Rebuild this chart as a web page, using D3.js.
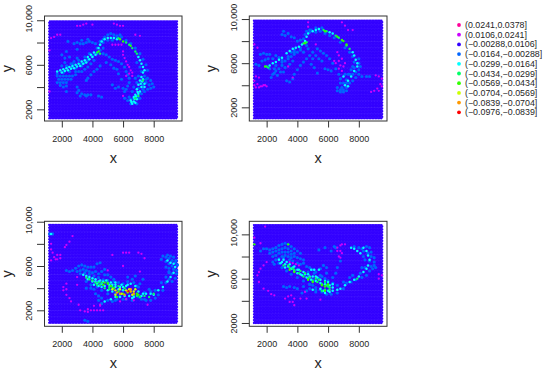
<!DOCTYPE html>
<head>
  <meta charset="utf-8">
  <script src="https://d3js.org/d3.v7.min.js"></script>
  <style>
    body { margin:0; background:#fff; }
    text { font-family:"Liberation Sans", Arial, sans-serif; fill:#262626; }
    .axis path { display:none; }
    .axis line { stroke:#333; stroke-width:1; }
    .axis text { font-size:9px; }
  </style>
</head>
<body>
<script>
// legend classes, top to bottom
var classLabels = ["(0.0241,0.0378]","(0.0106,0.0241]","(\u22120.00288,0.0106]","(\u22120.0164,\u22120.00288]","(\u22120.0299,\u22120.0164]","(\u22120.0434,\u22120.0299]","(\u22120.0569,\u22120.0434]","(\u22120.0704,\u22120.0569]","(\u22120.0839,\u22120.0704]","(\u22120.0976,\u22120.0839]"];
var classColors = ["#FF0099","#CC00FF","#3300FF","#0066FF","#00FFFF","#00FF66","#33FF00","#CCFF00","#FF9900","#FF0000"];
var classRadius = [1.1,1.15,1.15,1.55,1.25,1.2,1.2,1.2,1.2,1.1];

var xTicks = [2000,4000,6000,8000];
var yTicks = [2000,4000,6000,8000,10000];
var yTickLabels = ["2000","","6000","","10,000"];

// marks, x,y pairs in drawing order per panel
var p1Blue = [1700,4400,1900,4400,2100,4400,2300,4400,1800,4700,2000,4700,2200,4700,2400,4700,2600,4700,1700,5000,1900,5000,2100,5000,2300,5000,2500,5000,2700,5000,2900,5100,2900,5400,3100,5400,3300,5400,3500,5600,3700,5800,3900,6100,4100,6400,3300,5900,3500,6200,3700,6400,1900,4150,2100,4000,2300,4100,2200,6600,2500,6700,2000,5900,2400,5800,2600,6100,2800,6300,3000,6600,2700,5800,2200,6200,3200,6000,2000,6900,2300,7200,3000,7400,2800,7900,3000,8000,3200,7900,3400,7900,3600,8000,3800,8100,4000,8000,4200,7900,3300,8200,3700,8300,2400,8100,4700,8000,4500,7800,4800,8500,5000,8700,5200,8800,5400,8700,5600,8500,5800,8700,4700,7000,4900,6900,5100,6700,5300,6500,5500,6400,5700,6300,5900,6100,6100,5800,6200,5400,6300,5100,6400,4800,6400,4400,6300,4100,6200,3800,6100,3600,4900,6200,5200,6000,5400,5700,5600,5600,5700,5200,5900,4700,5700,4000,5500,3900,5300,4200,6000,3900,3700,4800,3900,5100,4100,5400,4300,5600,4500,5900,3600,4600,3000,4000,3100,3700,3300,3400,3500,3300,3700,3300,3900,3300,3200,3200,4400,3200,4600,3100,2300,3600,3000,3500,3600,3200,7400,5000,7600,4800,7800,4600,7900,4300,8000,4000,7800,3900,7600,3800,7400,3600,7200,3400,7700,4200,7500,4400,7300,4200,7000,3000,6700,3000,6500,2900,6300,2800,6100,3000,6400,3100,1700,5200,2100,5300,2500,5400,2900,5700,3300,6100,3700,6500,4000,6800,2300,5900,2700,6100,3100,6400,3500,6700,3800,7000,4300,7000,4500,7300,4300,7500,4700,7500,4700,8300,4500,8100,5000,8200,5300,8200,5600,8600,5900,8500,6200,8200,6500,7900,6800,7500,7100,7000,7300,6500,7500,6000,7600,5500,6900,6200,7100,5800,7200,5400,7000,5000,6800,4800,6900,4400,6700,4000,6600,3600,6900,3200,7100,3000,7300,3800,7500,4700,7000,3900,6500,2500,6900,2500];
var p1Magenta = [3000,9500,3200,9500,3400,9600,3600,9700,4000,9600,5400,9700,5600,9600,5800,9500,6000,9500,6800,8700,7100,8600,1300,8400,1500,8500,1700,8700,1200,7300,1900,8700,5300,7800,5500,7800,5700,7800,5900,7800,6000,7200,6000,6900,6100,6600,6200,6300,6300,6000,6400,5800,6500,5500,6600,5300,6600,5000,6400,5200,6200,5000,6000,3200,1200,3600];
var p1Cyan = [1700,5400,1900,5500,2100,5600,2300,5700,2500,5800,2700,5900,2900,6000,3100,6100,3300,6300,3500,6400,3700,6700,3900,6900,4100,7100,2000,5300,2400,5500,2800,5700,3200,5900,3600,6200,4200,6900,4400,7500,4500,7800,4600,8100,4800,8300,5000,8400,5200,8400,5400,8400,5600,8300,7000,6700,7100,6400,7200,6100,7300,5800,7400,5500,7200,4900,7100,4600,7300,4700,7000,4200,7400,4300,7200,4000,6900,3800,7100,3600,6800,3300,7000,3400,6900,2900,6700,2700,6500,2800,6700,3100,6600,2500,6800,2600,2200,5450,2600,5650,3000,5850,3400,6100,3800,6500,4000,6700,7300,5300,7250,4500,7400,4000,7150,4300,6950,3550,6750,2950,6850,3150,6550,2650];
var p1Teal = [5700,8400,6200,8000,6400,7800,6600,7500,6800,7200,4300,7100,4500,7000,6900,7000,6800,3000,7000,3200,7300,4600];
var p1Green = [5800,8300,6000,8100,6500,7700,4400,7200];

var p2Blue = [1600,6800,1800,6900,2000,6800,2200,6800,1700,6200,1900,6300,2100,6400,2400,6400,2600,6700,2800,6500,3000,6300,3200,6200,3400,6400,3600,6600,3800,6800,4000,7000,3600,7000,3800,7200,4200,7200,4400,7000,3000,5800,3200,5600,2800,5500,2600,5300,2400,5000,2300,4700,2500,5100,3100,5200,3700,6200,3500,5900,2700,4900,3300,4400,3500,4300,1500,5800,1300,5900,3000,8600,3200,8500,3400,8700,3600,8400,3800,8300,4000,8000,4200,8100,3100,8900,4600,8900,4800,8800,4900,9000,5200,9200,5400,9100,5600,9200,5000,7000,4800,6700,5200,6700,5400,6400,4600,6400,4400,6100,4200,5800,4000,5400,3800,5000,3700,4600,5000,6400,5600,6200,4700,7300,5300,7300,5500,7100,5700,6900,5900,6700,6100,6400,6300,6000,6500,5500,6700,5000,6800,4600,6800,4200,6600,3800,5800,5500,6000,5400,6200,5300,5100,5600,5300,5100,4900,5900,7500,5400,7700,5600,8000,5000,8200,4800,8500,4800,8700,4800,7400,5000,7200,4500,7000,4200,7200,3800,7000,3600,6800,3600,6600,3500,6800,3400,7000,3400,7200,3500,7600,4400,7800,4700,7400,4200,7600,5000,7800,5200,8000,5400,2200,5500,2600,5800,3000,6100,3400,6600,3800,7000,4200,7400,4600,7600,4400,8200,4500,8600,4800,9000,5200,8800,5500,8900,5800,8700,6100,8500,6400,8300,6800,7900,7100,7400,7400,7000,7600,6600,8000,6400,7700,6100,7600,5700,8000,6000,8100,5700,7300,5000,7100,5000,6900,3800,7200,4200,2500,5500,2900,5200];
var p2Magenta = [4700,9700,4700,9300,6900,9700,7100,9400,7300,9000,7600,9000,1200,7700,1400,7400,1300,4800,1500,4700,1200,4400,1200,4000,1400,4100,1600,3900,1800,4000,2000,3900,1300,3800,1500,3800,1700,3900,1900,4000,5200,7700,6600,7000,6700,6700,6900,6400,7100,6000,7000,5700,6500,6000,6700,5500,6900,5300,6800,5800,6400,6200,6700,6200,3400,5700,3700,4700,9100,4900,9300,4800,9500,4600,9400,4100,9200,3700,9000,3500,8800,3400,9500,3900,9300,3500];
var p2Cyan = [2200,5800,2400,6000,2600,6100,2800,6300,3000,6500,3300,6900,3500,7100,3700,7300,3900,7400,4100,7500,4300,7700,4500,8000,4600,8400,4700,8700,5000,8900,5200,9000,5400,9100,6100,8800,6300,8700,7600,7000,7700,6700,7800,6300,7900,6000,7900,5700,7700,5300,7500,4800,7300,4400,7300,3900,7100,4000,7000,4800];
var p2Teal = [2000,5700,2100,5600,5700,9000,5900,8900,6500,8500,6700,8300,7200,7600,7400,7300,4400,7800,4600,7900];
var p2Green = [1900,5700,6900,8100,7000,8000,7200,7700,6600,8400,4500,7800,5800,8900];

var p3Blue = [2300,5600,2500,5500,2700,5600,2900,5800,3100,6000,3300,6100,3500,6000,3700,5900,3900,5900,4100,5900,4300,6200,4500,6300,3000,5500,3200,5600,3400,5700,3600,5600,3800,5500,4000,5400,4200,5500,4400,5300,4600,5500,4800,5700,5000,5200,5200,5000,4800,5200,5400,4800,4200,3500,4400,3300,4600,3100,4400,2900,4600,2600,5000,2900,5300,2800,5600,3000,5800,3300,6000,3000,3600,4000,3900,4000,4100,3900,6300,5000,6600,4800,6800,5100,7300,4800,7100,4400,6900,4200,7500,2900,7000,3200,7400,3000,7700,3900,8600,6900,8800,6800,9000,6700,9200,6500,9400,6300,8800,6400,9000,6200,9200,6000,9300,5700,9000,5800,8800,5900,9000,5500,9200,5300,9000,4800,9200,4600,8800,4500,3500,1100,3700,1000,1200,8900,1400,8900,3200,5300,3500,5400,3800,5250,4100,5100,4400,4950,4700,4750,5000,4700,5400,4600,5700,4500,6000,4400,6300,4600,6700,4500,7000,4100,3600,4600,3900,4300,4300,4100,4600,3800,5000,3500,5500,3500,7400,3600,7800,3700,8100,3800,8500,4500,8800,5000,9000,5400,8100,3100,7800,2900,7200,3000,6600,2900,6200,3000,5500,2900,8300,3400,8600,3800,9400,4900,9500,5300,9500,5600,8500,6600,8900,7000,9100,6900,9300,6800,9450,6500,9550,6100];
var p3Magenta = [2700,8700,2500,8200,2300,7900,2200,7700,1300,8000,1300,7500,1400,7200,1500,6800,1700,6600,1900,6700,1700,7000,1600,6600,1900,7000,1300,6500,2300,3900,2100,4100,2300,4400,2100,3800,2300,3400,2500,3100,2600,2800,3000,4300,3200,2000,3500,1900,3700,1850,3900,2000,4100,2000,4300,2000,4500,2000,4700,2000,3700,2100,4100,2400,4500,2400,3100,2500,6000,7200,6200,7200,6400,7200,7000,7200,7200,7100,7400,6700,5300,7000,6000,6000,3000,5000,5000,5600,4500,2500,7100,5500,7600,2500,6200,3000,5800,2800,6700,2900];
var p3Cyan = [1300,8900,3400,5200,3600,5100,3800,5000,4000,4900,4200,4800,4400,4600,4600,4400,4800,4200,3700,4800,4000,4600,4300,4400,4600,4100,5000,3800,5300,3700,5100,4300,5300,4300,5500,4500,5700,3900,6000,3800,6300,4300,6500,4400,6800,4200,7000,3700,7200,3300,8000,3400,8300,3800,8600,4100,8900,4600,9100,5000,9300,5400,9400,5900,9100,6300,8900,6500,9300,6200,4800,2800,5200,3000,5500,3200,5800,3200,6100,3300,6400,3300,6700,3200,4100,4300,4400,4200,4900,4700,5200,4500,5500,4300,5900,4300,6200,4200,6000,4100,5500,4100,5800,4100,4700,4600,4500,4700,4200,4600,7500,3500,7800,3500,7300,3500,6600,3100];
var p3Teal = [3800,4800,4200,4500,4500,4300,4800,4000,5100,3900,7100,3200,7400,3300,7700,3200,8000,3500,6700,3400,6900,3300,3600,4950,4000,4700,4400,4500,4600,4500,5100,4100,5300,4100,5700,4200,6100,4000,5000,4500,4300,4300];
var p3Green = [4800,4500,5000,4400,5200,4200,4700,4300,5400,4000,5700,3700,6000,3500,6300,3600,6500,3700,6900,3500,7000,3400,5600,3200];
var p3Yellow = [5300,3900,5500,3800,5800,3900,6200,3800,6400,3900,6700,3700,6800,3900,5500,3400,5900,3500,6600,3400];
var p3Orange = [5600,3600,5800,3500,6300,3700,6500,3700,6700,3500,6100,3400,6500,3900];
var p3Red = [6350,3720];

var p4Blue = [1600,8500,1800,8700,2000,8700,2200,8600,2400,8700,2600,8800,2800,9000,3000,9100,3200,9200,3400,9100,3600,8900,3800,8700,4000,8500,4200,8300,2200,8300,2400,8400,2600,8500,2800,8600,3000,8700,3200,8800,3400,8700,3600,8500,2400,8000,2600,8100,2800,8300,3000,8400,3200,8400,3400,8400,3600,8200,3800,8300,2600,7700,2800,7800,3000,8000,3200,8100,3400,8000,3600,7900,3800,8000,4000,7900,4200,7800,4400,7700,4000,7400,4200,7300,4400,7400,4600,7100,4800,7000,5000,6800,5200,6600,2500,7300,2400,7500,5500,6900,5900,7000,5700,7200,5900,6500,5600,6200,5400,6000,5000,5900,4400,5300,4000,5100,3500,5300,3100,5300,3300,5200,3800,5200,4300,4700,4600,4900,4800,5100,5200,5000,5500,5000,6300,6100,6500,6500,6600,7000,6800,7600,5800,8800,6200,8500,6500,8800,5400,8600,6400,8900,8300,8500,8600,8300,8800,8000,9000,7900,9000,7500,8700,7600,9000,7200,8800,7100,8700,6700,8500,6300,8200,6100,7800,5900,7500,5700,7200,5600,4800,5500,5000,5400,5200,5200,5600,4800,3000,7000,3300,6700,3600,6400,4000,6100,4400,5800,4800,5500,3100,7900,3500,7700,3700,7600,2800,7400,4700,6600,5100,6500,5500,6300,5800,6000,6000,5800,6300,5600,6600,5400,7000,5700,7400,6100,7600,6300,8100,6500,8400,7000,8900,6900,8200,7000,8800,8400,8500,8900,8000,8800,7700,8900,8200,8700,9100,7000,8700,8800,8400,7700,8300,8000,5200,4800,5900,4600,6200,4600,6600,4700,7000,5100];
var p4Magenta = [1200,9700,1900,10700,1600,9200,6800,9000,6600,8800,6900,9100,7100,9100,6600,8500,6800,8500,6900,8300,6700,8000,6800,7900,3500,7500,3700,7400,3900,7300,4100,7200,2000,7500,1800,7200,1600,6900,1500,6600,1400,6300,1500,5700,1800,5100,2100,4900,2300,4600,2500,4500,3200,4200,3400,4400,3600,4500,3800,4200,3500,3900,3700,3900,3800,3600,4200,4200,4600,4200,5500,4100,9300,6400,9500,6300,9300,6000,4500,4800];
var p4Cyan = [2800,7700,3000,7500,3200,7300,3400,7100,3600,6900,3800,6700,4000,6500,4300,6300,4600,6100,4900,5900,5200,5800,5500,5600,5800,5500,6100,5400,6300,5200,3100,7700,3300,7500,3500,7300,3800,7100,4100,6800,4400,6600,4700,6400,5000,6200,5300,6100,5100,6800,5400,6800,4900,6800,7500,8800,7700,8700,7900,8500,8100,8300,8300,8800,8500,8500,8600,8100,8700,7700,8600,7200,8500,6900,8300,6600,8000,6200,7700,5900,7400,5700,7100,5400,6800,5100,6600,5000,6300,4900,6000,4900,5700,4900,5500,5100,5000,5000,2900,7400,3200,7000,3700,7000,4000,6800,4200,6400,4500,6400,4800,6200,5200,6200,5500,5900,5800,5800,6000,5700,6300,5500,5800,4700,6100,4800];
var p4Teal = [3500,7000,3800,6800,4100,6500,4400,6200,4700,6000,5000,5800,5300,5700,5600,5500,5900,5400,6100,5200,5600,4900,5800,5000,6100,5000,7900,6000,3100,7200,3400,7200,3700,6900,4200,6700,4500,6500,4800,6100,5200,6000,5400,5900,5800,5700,6000,5300];
var p4Green = [3500,6800,3800,6600,4700,5900,5000,5700,5600,5400,5800,5300,6000,5500,5800,4900,1200,9100,3400,9100];

// panel layout
var panels = [
  {box:[44.5,182,16,121],   xDom:[870,9848], yDom:[952,10383],  gridY:[1190,10024], marks:[[3,p1Blue],[1,p1Magenta],[4,p1Cyan],[5,p1Teal],[6,p1Green]]},
  {box:[249.3,387,16,121],  xDom:[872,9834], yDom:[762,10275],  gridY:[1003,9909],  marks:[[3,p2Blue],[1,p2Magenta],[4,p2Cyan],[5,p2Teal],[6,p2Green]]},
  {box:[44.5,182,221.3,326.3],  xDom:[870,9848], yDom:[555,10037],  gridY:[870,9750],   marks:[[3,p3Blue],[1,p3Magenta],[4,p3Cyan],[5,p3Teal],[6,p3Green],[7,p3Yellow],[8,p3Orange],[9,p3Red]]},
  {box:[249.3,387,221.3,326.3], xDom:[872,9834], yDom:[1700,11180], gridY:[2000,10870], marks:[[3,p4Blue],[1,p4Magenta],[4,p4Cyan],[5,p4Teal],[6,p4Green]]}
];
var gridX = [1174,9565], gridStepX = 100, gridStepY = 130;

var svg = d3.select("body").append("svg").attr("width",550).attr("height",372);

// the reference is a soft resampled image
svg.append("defs").append("filter").attr("id","soft")
  .append("feGaussianBlur").attr("stdDeviation",0.3);

panels.forEach(function(p){
  var x = d3.scaleLinear().domain(p.xDom).range([p.box[0],p.box[1]]);
  var y = d3.scaleLinear().domain(p.yDom).range([p.box[3],p.box[2]]);
  var g = svg.append("g");
  var plot = g.append("g").attr("filter","url(#soft)");

  // background sampling grid, everything in the flat class
  var cells = [];
  d3.range(p.gridY[0],p.gridY[1]+1,gridStepY).forEach(function(gy,j){
    d3.range(gridX[0]+(j%2)*gridStepX/2,gridX[1]+1,gridStepX).forEach(function(gx){ cells.push([gx,gy]); });
  });
  plot.append("g").selectAll("circle").data(cells).enter().append("circle")
    .attr("cx",function(d){return x(d[0]);}).attr("cy",function(d){return y(d[1]);})
    .attr("r",classRadius[2]).attr("fill",classColors[2]);

  p.marks.forEach(function(m){
    var pts = d3.range(0,m[1].length,2).map(function(i){ return [m[1][i],m[1][i+1]]; });
    plot.append("g").selectAll("circle").data(pts).enter().append("circle")
      .attr("cx",function(d){return x(d[0]);}).attr("cy",function(d){return y(d[1]);})
      .attr("r",classRadius[m[0]]).attr("fill",classColors[m[0]]);
  });

  g.append("rect").attr("x",p.box[0]).attr("y",p.box[2])
    .attr("width",p.box[1]-p.box[0]).attr("height",p.box[3]-p.box[2])
    .attr("fill","none").attr("stroke","#333").attr("stroke-width",1);

  g.append("g").attr("class","axis").attr("transform","translate(0,"+p.box[3]+")")
    .call(d3.axisBottom(x).tickValues(xTicks).tickSize(6.5).tickPadding(8).tickFormat(d3.format("d")));

  var yAxis = g.append("g").attr("class","axis").attr("transform","translate("+p.box[0]+",0)")
    .call(d3.axisLeft(y).tickValues(yTicks).tickSize(7.5).tickFormat(function(d,i){return yTickLabels[i];}));
  yAxis.selectAll("text")
    .attr("transform",function(d){ return "translate(-12.5,"+(d==10000?-2:0)+") rotate(-90)"; })
    .attr("x",0).attr("y",0).attr("dy",0).attr("text-anchor","middle");

  g.append("text").attr("x",(p.box[0]+p.box[1])/2).attr("y",p.box[3]+41.7)
    .attr("text-anchor","middle").style("font-size","14.5px").text("x");
  g.append("text").attr("transform","translate("+(p.box[0]-33)+","+(p.box[2]+p.box[3])/2+") rotate(-90)")
    .attr("text-anchor","middle").style("font-size","14.5px").text("y");
});

// legend
var legend = svg.append("g").selectAll("g").data(classLabels).enter().append("g")
  .attr("transform",function(d,i){ return "translate(459,"+(25+i*9.7)+")"; });
legend.append("circle").attr("r",1.9).attr("fill",function(d,i){return classColors[i];});
legend.append("text").attr("x",6).attr("y",3).style("font-size","8.85px").text(function(d){return d;});
</script>
</body>
